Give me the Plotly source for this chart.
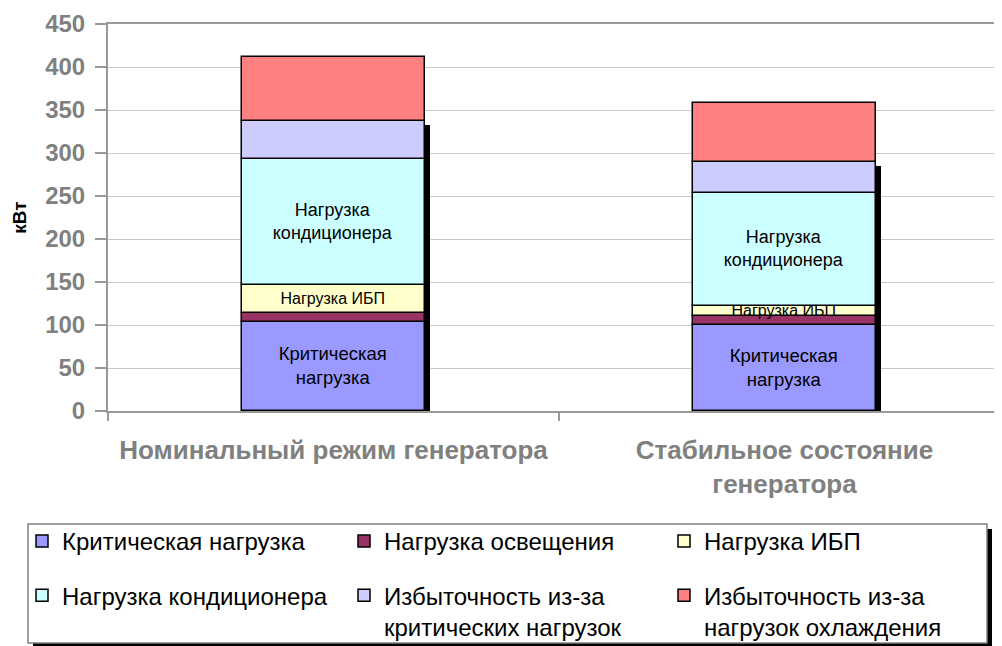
import numpy as np
import plotly.graph_objects as go

# ---- data ----
categories = ["Номинальный режим генератора", "Стабильное состояние<br>генератора"]
series_names = [
    "Критическая нагрузка",
    "Нагрузка освещения",
    "Нагрузка ИБП",
    "Нагрузка кондиционера",
    "Избыточность из-за<br>критических нагрузок",
    "Избыточность из-за<br>нагрузок охлаждения",
]
critical_load = [104, 100]
lighting_load = [10.5, 10]
ups_load = [32, 12.5]
ac_load = [147, 131.5]
redundancy_critical = [44, 36]
redundancy_cooling = [74, 68]
segment_labels = {
    0: "Критическая<br>нагрузка",
    2: "Нагрузка ИБП",
    3: "Нагрузка<br>кондиционера",
}
y_tick_values = [0, 50, 100, 150, 200, 250, 300, 350, 400, 450]

# ---- styles ----
colors = ["#9999FF", "#993366", "#FFFFCC", "#CCFFFF", "#CCCCFF", "#FF8080"]
legend_of = ["legend", "legend2", "legend3", "legend", "legend2", "legend3"]
label_sizes = {0: 18.5, 2: 16, 3: 18}
FONT = "Liberation Sans, Arial, sans-serif"
BAR_W = 0.404
PX_PER_CAT = 451.0
PX_PER_UNIT = 387.0 / 450.0

# page body has an 8px margin; figure coordinates below are page coords - 8
OFF = 8.0
FIG_W = 1002 - OFF
FIG_H = 646 - OFF
L0 = 108.0 - OFF
Y0 = 411.0 - OFF
TOP = 24.0 - OFF
PW = FIG_W - L0
PH = Y0 - TOP

series = [critical_load, lighting_load, ups_load, ac_load,
          redundancy_critical, redundancy_cooling]
arr = np.array(series, dtype=float)
bases = np.vstack([np.zeros(arr.shape[1]), np.cumsum(arr, axis=0)[:-1]])

fig = go.Figure()

# drop shadow (behind the stack of the first five series)
shadow_top = arr[:5].sum(axis=0) - 4 / PX_PER_UNIT
fig.add_trace(go.Bar(
    x=categories, y=shadow_top, base=0, width=BAR_W,
    offset=-BAR_W / 2 + 5 / PX_PER_CAT,
    marker=dict(color="black", line=dict(width=0)),
    showlegend=False, hoverinfo="skip",
))

for i, (name, vals) in enumerate(zip(series_names, series)):
    txt = [segment_labels.get(i, "")] * len(categories)
    fig.add_trace(go.Bar(
        x=categories, y=vals, base=bases[i], width=BAR_W,
        name=name, legend=legend_of[i], legendgroup=f"g{i}",
        marker=dict(color=colors[i], line=dict(color="black", width=1.5)),
        text=txt, textposition="inside", insidetextanchor="middle",
        textangle=0, constraintext="none",
        textfont=dict(family=FONT, size=label_sizes.get(i, 18), color="black"),
    ))


def px_x(p):
    return (p - OFF - L0) / PW


def px_y(p):
    return (Y0 - (p - OFF)) / PH


legend_common = dict(
    orientation="v", traceorder="grouped", tracegroupgap=20,
    bgcolor="rgba(0,0,0,0)", borderwidth=0, valign="top",
    font=dict(family=FONT, size=24, color="black"),
    xanchor="left", yanchor="top",
)

fig.update_layout(
    width=FIG_W, height=FIG_H,
    margin=dict(l=L0, r=0, t=TOP, b=FIG_H - Y0, autoexpand=False),
    paper_bgcolor="white", plot_bgcolor="white",
    barmode="overlay", bargap=0,
    font=dict(family=FONT),
    xaxis=dict(
        type="category", range=[-0.5, -0.5 + PW / PX_PER_CAT],
        showline=True, linecolor="#999999", linewidth=2, mirror=True,
        ticks="outside", tickson="boundaries", ticklen=8, tickwidth=2,
        tickcolor="#999999", showgrid=False,
        tickfont=dict(family=FONT, size=26, color="#808080", weight="bold"),
        ticklabelstandoff=15,
    ),
    yaxis=dict(
        range=[0, 450], tickvals=y_tick_values,
        showline=True, linecolor="#999999", linewidth=2,
        ticks="outside", ticklen=11, tickwidth=2, tickcolor="#999999",
        showgrid=True, gridcolor="#C8C8C8", gridwidth=1, zeroline=False,
        tickfont=dict(family=FONT, size=24, color="#808080", weight="bold"),
        ticklabelstandoff=5,
        title=dict(text="кВт", standoff=14,
                   font=dict(family=FONT, size=19, color="black", weight="bold")),
    ),
    legend=dict(x=px_x(22), y=px_y(519), **legend_common),
    legend2=dict(x=px_x(344), y=px_y(519), **legend_common),
    legend3=dict(x=px_x(664), y=px_y(519), **legend_common),
    shapes=[
        dict(type="rect", xref="paper", yref="paper",
             x0=px_x(33), x1=px_x(992), y0=px_y(648), y1=px_y(529),
             fillcolor="black", line=dict(width=0), layer="above"),
        dict(type="rect", xref="paper", yref="paper",
             x0=px_x(28), x1=px_x(987), y0=px_y(643), y1=px_y(524),
             fillcolor="white", line=dict(color="#808080", width=1.5),
             layer="above"),
    ],
)

fig.write_html("out.html")
